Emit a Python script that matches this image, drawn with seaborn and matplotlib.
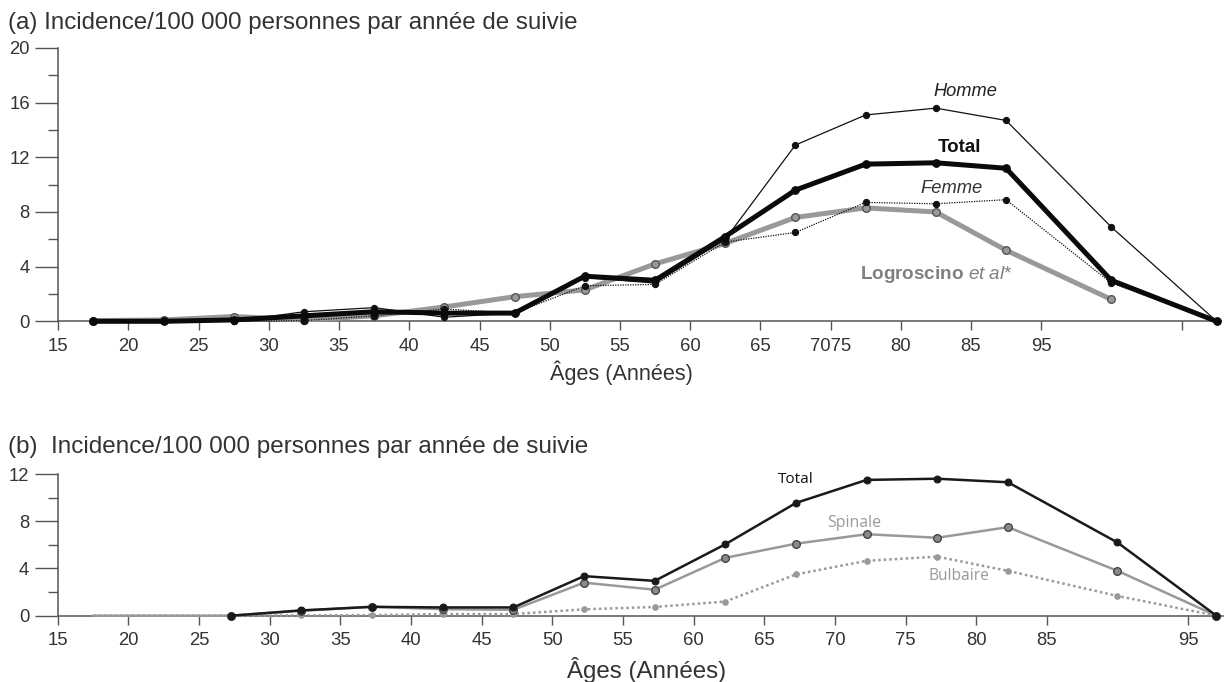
import matplotlib
matplotlib.use("Agg")
import matplotlib.pyplot as plt
import seaborn as sns
import numpy as np
from matplotlib.ticker import MultipleLocator

sns.set_style("white")
plt.rcParams['font.family'] = ['Liberation Sans', 'DejaVu Sans']
plt.rcParams['mathtext.fontset'] = 'custom'
plt.rcParams['mathtext.rm'] = 'Liberation Sans'
plt.rcParams['mathtext.bf'] = 'Liberation Sans:bold'
plt.rcParams['mathtext.it'] = 'Liberation Sans:italic'

# ---------------- data: panel (a) ----------------
ages_a = [17.5, 22.5, 27.5, 32.5, 37.5, 42.5, 47.5, 52.5, 57.5, 62.5, 67.5, 72.5, 77.5, 82.5, 90, 97.5]
total_a = [0, 0, 0.1, 0.4, 0.7, 0.6, 0.6, 3.3, 3.0, 6.2, 9.6, 11.5, 11.6, 11.2, 3.0, 0]
homme_a = [0, 0, 0, 0.7, 1.0, 0.3, 0.6, 3.2, 2.8, 6.0, 12.9, 15.1, 15.6, 14.7, 6.9, 0]
femme_a = [0, 0, 0, 0.05, 0.4, 0.9, 0.6, 2.6, 2.7, 5.8, 6.5, 8.7, 8.6, 8.9, 2.8, 0]
ages_logro = [17.5, 22.5, 27.5, 32.5, 37.5, 42.5, 47.5, 52.5, 57.5, 62.5, 67.5, 72.5, 77.5, 82.5, 90]
logro_a = [0.05, 0.1, 0.35, 0.1, 0.4, 1.05, 1.8, 2.3, 4.2, 5.7, 7.6, 8.3, 8.0, 5.2, 1.6]
xtick_pos_a = [15, 20, 25, 30, 35, 40, 45, 50, 55, 60, 65, 70, 75, 80, 85, 95]
xtick_lab_a = ["15", "20", "25", "30", "35", "40", "45", "50", "55", "60", "65", "7075", "80", "85", "95", ""]

# ---------------- data: panel (b) ----------------
ages_b_total = [27.25, 32.25, 37.25, 42.25, 47.25, 52.25, 57.25, 62.25, 67.25, 72.25, 77.25, 82.25, 90, 97]
total_b = [0, 0.45, 0.75, 0.7, 0.7, 3.35, 2.95, 6.05, 9.55, 11.5, 11.6, 11.3, 6.2, 0]
ages_b = [17.5, 22.5, 27.25, 32.25, 37.25, 42.25, 47.25, 52.25, 57.25, 62.25, 67.25, 72.25, 77.25, 82.25, 90, 97]
spinale_b = [0, 0, 0, 0.42, 0.76, 0.55, 0.5, 2.8, 2.2, 4.9, 6.1, 6.9, 6.6, 7.5, 3.8, 0]
bulbaire_b = [0, 0, 0, 0.03, 0.05, 0.14, 0.14, 0.54, 0.74, 1.2, 3.5, 4.65, 5.0, 3.8, 1.67, 0]
xtick_pos_b = [15, 20, 25, 30, 35, 40, 45, 50, 55, 60, 65, 70, 75, 80, 85, 95]

W, H = 1227, 682
fig = plt.figure(figsize=(W / 100, H / 100), dpi=100)
renderer = fig.canvas.get_renderer()


def fit_size(text_obj, target_w):
    """Scale a text's font size so that its rendered width matches target_w pixels."""
    w = text_obj.get_window_extent(renderer=renderer).width
    text_obj.set_fontsize(text_obj.get_fontsize() * target_w / w)


# tick label size fitted to reference digit width ("15" ~ 20.5 px)
probe = fig.text(0, 0, "15", fontsize=12)
fit_size(probe, 20.5)
tick_fs = probe.get_fontsize()
probe.remove()

ax1 = fig.add_axes([58.3 / W, 1 - 321.3 / H, (97.8 - 15) * 14.04 / W, 273.3 / H])
ax2 = fig.add_axes([57.7 / W, 1 - 615.7 / H, (97.5 - 15) * 14.13 / W, 141.7 / H])

spine_c = '#555555'
txt_c = '#333333'

# panel (a) lines
sns.lineplot(x=ages_logro, y=logro_a, ax=ax1, color='#999999', lw=3.6, marker='o', ms=5.5,
             markerfacecolor='#999999', markeredgecolor='#555555', markeredgewidth=1.0, clip_on=False, zorder=3)
sns.lineplot(x=ages_a, y=femme_a, ax=ax1, color='#111111', lw=0.9, linestyle=(0, (1, 1)), marker='o', ms=4.5,
             markerfacecolor='#111111', markeredgecolor='#111111', clip_on=False, zorder=4)
sns.lineplot(x=ages_a, y=homme_a, ax=ax1, color='#111111', lw=0.9, marker='o', ms=4.5,
             markerfacecolor='#111111', markeredgecolor='#111111', clip_on=False, zorder=4)
sns.lineplot(x=ages_a, y=total_a, ax=ax1, color='#0a0a0a', lw=3.6, marker='o', ms=5.5,
             markerfacecolor='#0a0a0a', markeredgecolor='#0a0a0a', clip_on=False, zorder=5)

ax1.set_xlim(15, 97.8)
ax1.set_ylim(0, 20)
ax1.set_xticks(xtick_pos_a)
ax1.set_xticklabels(xtick_lab_a)
ax1.set_yticks([0, 4, 8, 12, 16, 20])
ax1.yaxis.set_minor_locator(MultipleLocator(2))

# panel (b) lines
nb = len(ages_b)
sns.lineplot(x=ages_b, y=bulbaire_b, ax=ax2, color='#999999', lw=1.8, linestyle=(0, (1, 1.2)), marker='o', ms=4,
             markevery=list(range(3, nb)),
             markerfacecolor='#999999', markeredgecolor='#999999', clip_on=False, zorder=3)
sns.lineplot(x=ages_b, y=spinale_b, ax=ax2, color='#999999', lw=1.8, marker='o', ms=5.5,
             markevery=list(range(2, nb)),
             markerfacecolor='#8a8a8a', markeredgecolor='#444444', markeredgewidth=1.0, clip_on=False, zorder=4)
sns.lineplot(x=ages_b_total, y=total_b, ax=ax2, color='#1a1a1a', lw=1.8, marker='o', ms=5,
             markerfacecolor='#1a1a1a', markeredgecolor='#1a1a1a', clip_on=False, zorder=5)

ax2.set_xlim(15, 97.5)
ax2.set_ylim(0, 12)
ax2.set_xticks(xtick_pos_b)
ax2.set_xticklabels([str(v) for v in xtick_pos_b])
ax2.set_yticks([0, 4, 8, 12])
ax2.yaxis.set_minor_locator(MultipleLocator(2))

for ax in (ax1, ax2):
    for s in ('top', 'right'):
        ax.spines[s].set_visible(False)
    for s in ('left', 'bottom'):
        ax.spines[s].set_color(spine_c)
        ax.spines[s].set_linewidth(1.1)
    ax.set_xlabel('')
    ax.set_ylabel('')
    ax.tick_params(axis='y', which='major', direction='out', length=16.5, width=1.0, color=spine_c,
                   labelsize=tick_fs, labelcolor=txt_c, pad=4, left=True)
    ax.tick_params(axis='y', which='minor', direction='out', length=7, width=1.0, color=spine_c, left=True)
    ax.tick_params(axis='x', which='major', direction='out', length=6.7, width=1.0, color=spine_c,
                   labelsize=tick_fs, labelcolor=txt_c, pad=5, bottom=True)
    ax.patch.set_alpha(0)

# titles and axis labels
ta = fig.text(8 / W, 1 - 23 / H, "(a) Incidence/100 000 personnes par année de suivie", fontsize=15,
              color=txt_c, ha='left', va='center')
fit_size(ta, 572)
tb = fig.text(8 / W, 1 - 447 / H, "(b)  Incidence/100 000 personnes par année de suivie", fontsize=15,
              color=txt_c, ha='left', va='center')
fit_size(tb, 581)
xa = fig.text(621 / W, 1 - 373 / H, "Âges (Années)", fontsize=13, color=txt_c, ha='center', va='center')
fit_size(xa, 143)
xb = fig.text(647 / W, 1 - 670 / H, "Âges (Années)", fontsize=15, color=txt_c, ha='center', va='center')
fit_size(xb, 160)

# annotations (a)
t = ax1.text(79.6, 16.8, "Homme", fontsize=12, style='italic', color='#222222', ha='center', va='center')
fit_size(t, 64)
t = ax1.text(79.2, 12.7, "Total", fontsize=12, fontweight='bold', color='#111111', ha='center', va='center')
fit_size(t, 43)
t = ax1.text(78.65, 9.7, "Femme", fontsize=12, style='italic', color='#333333', ha='center', va='center')
fit_size(t, 62)
t = ax1.text(72.1, 3.39, r"$\mathbf{Logroscino}$ $\mathit{et\ al}$*", fontsize=12, color='#808080',
             ha='left', va='center')
fit_size(t, 153)

# annotations (b)
t = ax2.text(67.2, 11.5, "Total", fontsize=10.5, family='Open Sans', color='#111111', ha='center', va='center')
fit_size(t, 36)
t = ax2.text(71.35, 7.85, "Spinale", fontsize=10.5, family='Open Sans', color='#999999', ha='center', va='center')
fit_size(t, 54)
t = ax2.text(78.8, 3.36, "Bulbaire", fontsize=10.5, family='Open Sans', color='#999999', ha='center', va='center')
fit_size(t, 61)

fig.savefig("out.png", dpi=100, facecolor='white')
